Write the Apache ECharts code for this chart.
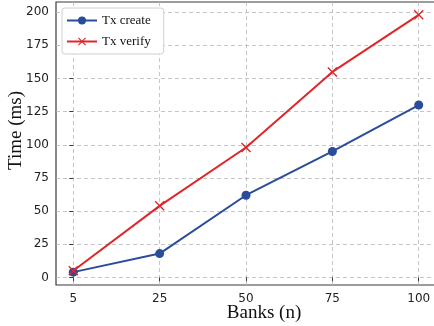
<!DOCTYPE html>
<html>
<head>
<meta charset="utf-8">
<script src="https://cdn.jsdelivr.net/npm/echarts@6/dist/echarts.min.js"></script>
<style>
  html, body { margin: 0; padding: 0; background: #fff; }
  #chart { width: 434px; height: 326px; }
</style>
</head>
<body>
<div id="chart"></div>
<script>
// Bank counts on the x axis and the timing results (ms)
const banks = ['5', '25', '50', '75', '100'];
const txCreate = [4, 18, 62, 95, 130];
const txVerify = [5, 54, 98, 155, 198];
const yTicks = [0, 25, 50, 75, 100, 125, 150, 175, 200];

const BLUE = '#2b4c9a';
const RED = '#e0262a';
const CROSS = 'path://M1,0L5,4L9,0L10,1L6,5L10,9L9,10L5,6L1,10L0,9L4,5L0,1Z';

// points are placed by index so categories sit evenly with a 5% margin
const idx = (arr) => arr.map((v, i) => [i, v]);

const chart = echarts.init(document.getElementById('chart'), null, { renderer: 'canvas' });

const gridLine = { show: true, lineStyle: { color: '#b8b8b8', type: [4, 3], width: 0.8 } };

chart.setOption({
  animation: false,
  backgroundColor: '#fff',
  grid: {
    left: 56, right: -2, top: 2, bottom: 41,
    containLabel: false,
    outerBoundsMode: 'none',
    show: true, borderColor: '#3a3a3a', borderWidth: 1.2, backgroundColor: 'transparent'
  },
  legend: {
    left: 62, top: 8,
    orient: 'vertical',
    itemWidth: 30, itemHeight: 10, itemGap: 8,
    padding: [6, 13, 6, 4],
    borderColor: '#d0d0d0', borderWidth: 1, borderRadius: 3,
    backgroundColor: '#fff',
    textStyle: { fontFamily: 'Liberation Serif', fontSize: 13, color: '#111' },
    data: ['Tx create', 'Tx verify']
  },
  xAxis: {
    type: 'value',
    min: -0.2, max: 4.2, interval: 1,
    name: 'Banks (n)',
    nameLocation: 'middle',
    nameGap: 19,
    nameMoveOverlap: false,
    nameTextStyle: { fontFamily: 'Liberation Serif', fontSize: 19, color: '#111', padding: [0, 0, 0, 36] },
    axisLine: { show: false },
    axisTick: { show: true, length: 4, lineStyle: { color: '#3a3a3a' }, customValues: [0, 1, 2, 3, 4] },
    axisLabel: {
      fontFamily: 'DejaVu Sans', fontSize: 12, color: '#222', margin: 8,
      customValues: [0, 1, 2, 3, 4],
      formatter: (v) => banks[Math.round(v)]
    },
    splitLine: gridLine
  },
  yAxis: {
    type: 'value',
    min: -5.7, max: 207.7,
    name: 'Time (ms)',
    nameLocation: 'middle',
    nameGap: 30,
    nameMoveOverlap: false,
    nameTextStyle: { fontFamily: 'Liberation Serif', fontSize: 19, color: '#111', padding: [0, 0, 0, 26] },
    axisLine: { show: false },
    axisTick: { show: true, length: 4, lineStyle: { color: '#3a3a3a' }, customValues: yTicks },
    axisLabel: {
      fontFamily: 'DejaVu Sans', fontSize: 12, color: '#222', margin: 7,
      customValues: yTicks
    },
    splitLine: gridLine
  },
  series: [
    {
      name: 'Tx create',
      type: 'line',
      data: idx(txCreate),
      symbol: 'circle', symbolSize: 9,
      lineStyle: { color: BLUE, width: 2 },
      itemStyle: { color: BLUE },
      z: 3
    },
    {
      name: 'Tx verify',
      type: 'line',
      data: idx(txVerify),
      symbol: CROSS, symbolSize: 10,
      lineStyle: { color: RED, width: 2 },
      itemStyle: { color: RED },
      z: 4
    }
  ]
});
</script>
</body>
</html>
